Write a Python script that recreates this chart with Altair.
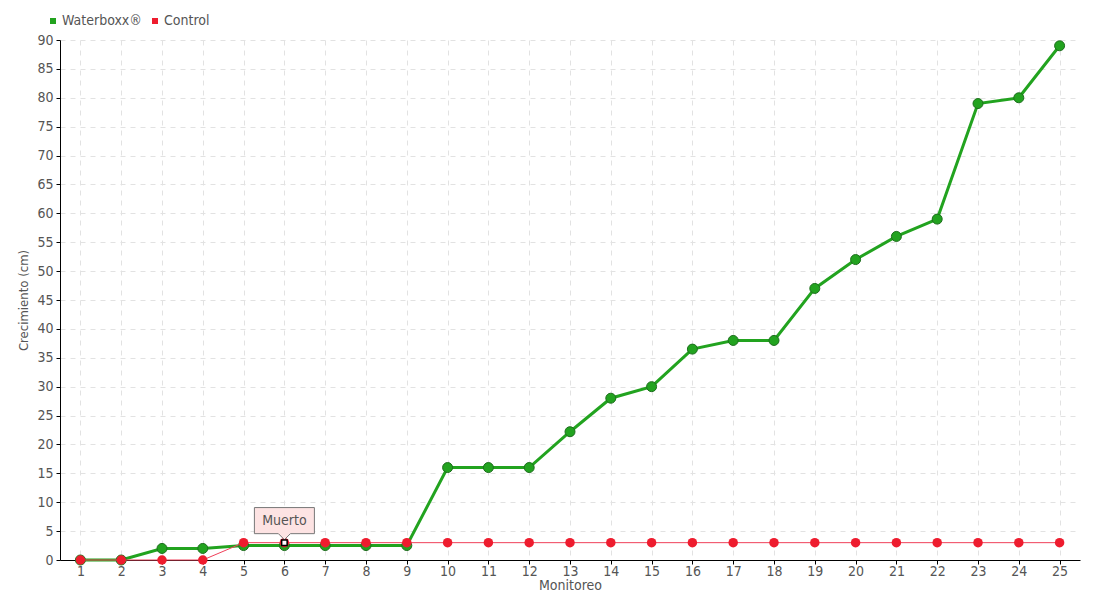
import altair as alt
import pandas as pd

monitoreo = list(range(1, 26))
waterboxx = [0, 0, 2, 2, 2.5, 2.5, 2.5, 2.5, 2.5, 16, 16, 16, 22.2, 28, 30, 36.5, 38, 38, 47, 52, 56, 59, 79, 80, 89]
control = [0, 0, 0, 0, 3, 3, 3, 3, 3, 3, 3, 3, 3, 3, 3, 3, 3, 3, 3, 3, 3, 3, 3, 3, 3]
series_names = ["Waterboxx®", "Control"]
series_colors = ["#22a31f", "#ee1c2e"]
note_x = [6]
note_y = [3]
note_text = ["Muerto"]

FONT = "'Liberation Sans Narrow', 'DejaVu Sans Condensed', 'Roboto Condensed', Roboto, sans-serif"
GREY = "#555555"

df = pd.DataFrame({
    "Monitoreo": monitoreo * 2,
    "value": waterboxx + control,
    "serie": [series_names[0]] * len(monitoreo) + [series_names[1]] * len(monitoreo),
})
wb = df[df.serie == series_names[0]]
ct = df[df.serie == series_names[1]]
note = pd.DataFrame({"Monitoreo": note_x, "value": note_y, "t": note_text})

x = alt.X("Monitoreo:Q", scale=alt.Scale(domain=[0.5, 25.5], nice=False, zero=False),
          axis=alt.Axis(values=monitoreo, title="Monitoreo", grid=True, format="d",
                        gridDash=[5, 5], gridColor="#e2e2e2", tickColor="black", tickSize=4,
                        domainColor="black", labelColor=GREY, labelFontSize=14, labelFont=FONT,
                        titleFont=FONT, titleFontSize=14, titleColor=GREY, titleFontWeight="normal",
                        titlePadding=0, labelPadding=0, labelFlush=False))
y = alt.Y("value:Q", scale=alt.Scale(domain=[0, 90], nice=False),
          axis=alt.Axis(values=list(range(0, 95, 5)), title="Crecimiento (cm)", grid=True,
                        gridDash=[5, 5], gridColor="#e2e2e2", tickColor="black", tickSize=4,
                        domainColor="black", labelColor=GREY, labelFontSize=14, labelFont=FONT,
                        titleFont=FONT, titleFontSize=13, titleColor=GREY, titleFontWeight="normal",
                        titlePadding=6, labelPadding=3))

color = alt.Color("serie:N", scale=alt.Scale(domain=series_names, range=series_colors),
                  legend=alt.Legend(title=None, orient="none", legendX=-14, legendY=-26,
                                    direction="horizontal", symbolType="square", symbolSize=36,
                                    symbolStrokeWidth=0, symbolOpacity=1, labelFont=FONT, labelFontSize=14,
                                    labelColor=GREY, columnPadding=6, labelOffset=2))

green_line = alt.Chart(wb).mark_line(strokeWidth=3, color=series_colors[0]).encode(x=x, y=y)
green_pts = alt.Chart(wb).mark_circle(size=100, opacity=1, stroke="#1d6e1d", strokeWidth=1).encode(
    x=x, y=y, color=color)
red_line = alt.Chart(ct).mark_line(strokeWidth=1, color="#f0405a").encode(x=x, y=y)
red_pts = alt.Chart(ct).mark_circle(size=90, opacity=1).encode(x=x, y=y, color=color)

callout = "M-1,-1.17 L1,-1.17 L1,-0.3 L0.2,-0.3 L0,-0.1 L-0.2,-0.3 L-1,-0.3 Z"
box = alt.Chart(note).mark_point(shape=callout, size=3600, filled=True, fill="#fde3e3",
                                 stroke="#777777", strokeWidth=1, opacity=1).encode(x=x, y=y)
txt = alt.Chart(note).mark_text(dy=-22, font=FONT, fontSize=14, color=GREY).encode(x=x, y=y, text="t:N")
sq = alt.Chart(note).mark_point(shape="square", size=30, filled=True, fill="white",
                                stroke="black", strokeWidth=1.5, opacity=1).encode(x=x, y=y)

chart = alt.layer(green_line, green_pts, red_line, red_pts, box, txt, sq).properties(
    width=1020, height=520,
    autosize=alt.AutoSizeParams(type="none"),
    padding={"left": 52, "top": 32, "right": 10, "bottom": 38},
).configure_view(stroke=None)

chart.save("out.html", embed_options={"renderer": "svg", "actions": False})
